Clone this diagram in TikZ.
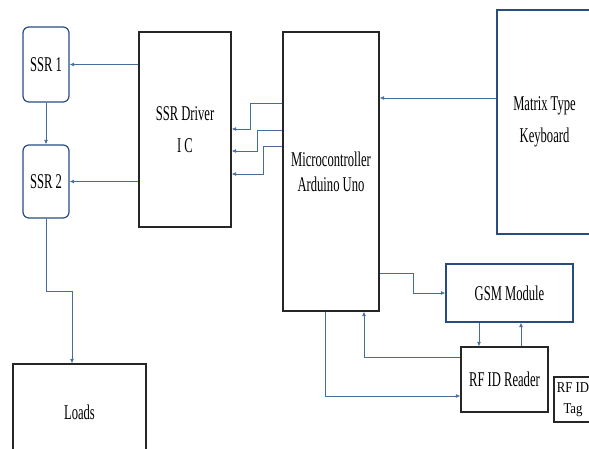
\documentclass[tikz,border=0pt]{standalone}
\usepackage{fontspec}
\setmainfont[FakeStretch=0.6]{Liberation Serif}
\newfontfamily\tagfont[FakeStretch=0.85]{Liberation Serif}
\usetikzlibrary{arrows.meta}
\definecolor{boxblue}{RGB}{38,76,128}
\definecolor{linkblue}{RGB}{70,108,156}
\begin{document}
\begin{tikzpicture}[
    x=1pt, y=-1pt,
    every node/.style={font=\fontsize{21}{25}\selectfont, align=center, inner sep=0pt},
    block/.style={rectangle, draw=black!85, line width=1.2pt},
    bluebox/.style={rectangle, draw=boxblue, line width=1.2pt},
    relay/.style={bluebox, rounded corners=6pt, minimum width=46pt, minimum height=75pt},
    arr/.style={-{Latex[length=4.5pt,width=4pt]}, draw=linkblue, line width=0.8pt},
]
    \useasboundingbox (0,0) rectangle (589,448);
    \node[relay] (ssra) at (46,64.5) {SSR 1};
    \node[relay, minimum height=73pt] (ssrb) at (46,181.5) {SSR 2};
    \node[block, minimum width=92pt, minimum height=195pt] (drv) at (185,129.5) {SSR Driver\\[7pt] I C};
    \node[block, minimum width=96pt, minimum height=279pt] (mcu) at (331,171.5) {Microcontroller\\ Arduino Uno};
    \node[bluebox, minimum width=95pt, minimum height=224pt] (kbd) at (544.5,122) {Matrix Type\\[7pt] Keyboard};
    \node[bluebox, minimum width=127pt, minimum height=58pt] (gsm) at (509.5,293) {GSM Module};
    \node[block, minimum width=87pt, minimum height=65pt] (rfid) at (504.5,379.5) {RF ID Reader};
    \node[block, minimum width=38pt, minimum height=45pt, font=\tagfont\fontsize{15}{21}\selectfont] (tag) at (573,399.5) {RF ID\\ Tag};
    \node[block, minimum width=133pt, minimum height=96pt] (loads) at (79.5,412) {Loads};
    % relays and loads
    \draw[arr] (drv.west |- ssra.east) -- (ssra.east);
    \draw[arr] (drv.west |- ssrb.east) -- (ssrb.east);
    \draw[arr] (ssra.south) -- (ssrb.north);
    \coordinate (ldbend) at (72,291);
    \draw[arr] (ssrb.south) |- (ldbend) -- (ldbend |- loads.north);
    % microcontroller to driver
    \foreach \ya/\xb/\yb in {103/250/129, 130/257/151, 146/263/174}
        \draw[arr] (mcu.west |- 0,\ya) -| (\xb,\yb) -- (drv.east |- 0,\yb);
    \draw[arr] (kbd.west |- 0,98) -- (mcu.east |- 0,98);
    % gsm and rfid
    \draw[arr] (mcu.east |- 0,273) -| (413,293) -- (gsm.west);
    \draw[arr] (gsm.south -| 479,0) -- (rfid.north -| 479,0);
    \draw[arr] (rfid.north -| 521,0) -- (gsm.south -| 521,0);
    \draw[arr] (rfid.west |- 0,357) -| (mcu.south -| 364,0);
    \draw[arr] (mcu.south -| 325,0) |- (rfid.west |- 0,396);
\end{tikzpicture}
\end{document}
